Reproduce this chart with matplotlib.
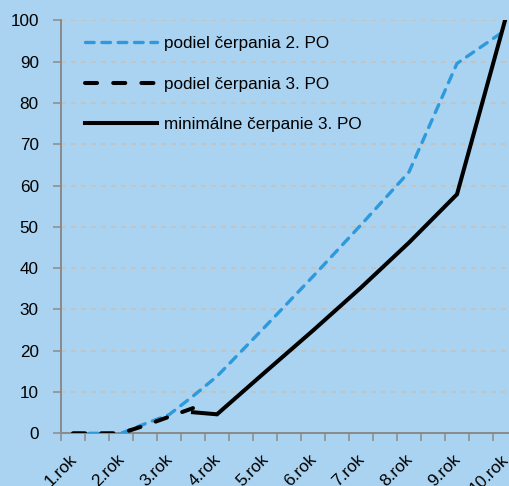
import numpy as np
import matplotlib
matplotlib.use('Agg')
import matplotlib.pyplot as plt
import matplotlib.transforms as mtransforms

matplotlib.rc('font', family=['Liberation Sans', 'DejaVu Sans'], size=12.3)

# half-year categories, labelled once per year
years = [1, 2, 3, 4, 5, 6, 7, 8, 9, 10]
year_labels = ['1.rok', '2.rok', '3.rok', '4.rok', '5.rok',
               '6.rok', '7.rok', '8.rok', '9.rok', '10.rok']

x_po2 = [1, 1.5, 2, 2.5, 3, 3.5, 4, 5, 6, 7, 8, 9, 10]
podiel_po2 = [0, 0, 0, 2.3, 4.5, 9.0, 13.8, 25.8, 38.0, 50.5, 63.3, 89.6, 97.6]

x_po3 = [1, 1.5, 2, 2.5, 3, 3.5]
podiel_po3 = [0, 0, 0, 1.9, 4.0, 6.1]

x_min3 = [3.5, 4, 5, 6, 7, 8, 9, 10]
min_po3 = [5.1, 4.6, 14.8, 24.9, 35.3, 46.2, 57.9, 100]

bg = '#A9D3F1'
blue = '#2E9ADB'
grid_col = '#C9C0B6'
axis_col = '#8A8A8A'

W, H = 510, 486
fig = plt.figure(figsize=(W / 100, H / 100), dpi=100)
fig.patch.set_facecolor(bg)
ax = fig.add_axes([61 / W, 1 - 433.3 / H, (517 - 61) / W, (433.3 - 20.5) / H])
ax.set_facecolor(bg)

ax.plot(x_po2, podiel_po2, color=blue, lw=2.4, dashes=(2.6, 2.3),
        dash_capstyle='round', solid_capstyle='round',
        label='podiel čerpania 2. PO', zorder=3)
ax.plot(x_po3, podiel_po3, color='black', lw=2.9, dashes=(3.0, 4.0),
        dash_capstyle='round', label='podiel čerpania 3. PO', zorder=4)
ax.plot(x_min3, min_po3, color='black', lw=2.9, solid_joinstyle='miter',
        label='minimálne čerpanie 3. PO', zorder=4)

ax.set_xlim(0.75, 10.25)
ax.set_ylim(0, 100)

# tick marks on category borders, labels in the middle
ax.set_xticks(np.arange(0.75, 10.26, 0.5))
ax.set_xticklabels([])
ax.set_xticks(years, minor=True)
ax.set_xticklabels(year_labels, minor=True, rotation=45, ha='right',
                   rotation_mode='anchor')
ax.tick_params(axis='x', which='major', length=6, width=1.1, color=axis_col)
ax.tick_params(axis='x', which='minor', length=0, pad=14)
shift = mtransforms.ScaledTranslation(-4 / 100, 1 / 100, fig.dpi_scale_trans)
for lab in ax.xaxis.get_minorticklabels():
    lab.set_transform(lab.get_transform() + shift)

ax.set_yticks(np.arange(0, 101, 10))
ax.tick_params(axis='y', length=6, width=1.1, color=axis_col, pad=10)

ax.yaxis.grid(True, color=grid_col, linestyle=(0, (3, 3)), lw=1.2)
ax.set_axisbelow(True)
for s in ['top', 'right']:
    ax.spines[s].set_visible(False)
for s in ['left', 'bottom']:
    ax.spines[s].set_color(axis_col)
    ax.spines[s].set_linewidth(1.4)

leg = ax.legend(loc='upper left', bbox_to_anchor=(85 / W, 1 - 36 / H),
                bbox_transform=fig.transFigure, frameon=False, borderpad=0,
                borderaxespad=0, handlelength=4.2, handletextpad=0.4,
                labelspacing=1.5)

plt.savefig('out.png', dpi=100, facecolor=bg)
